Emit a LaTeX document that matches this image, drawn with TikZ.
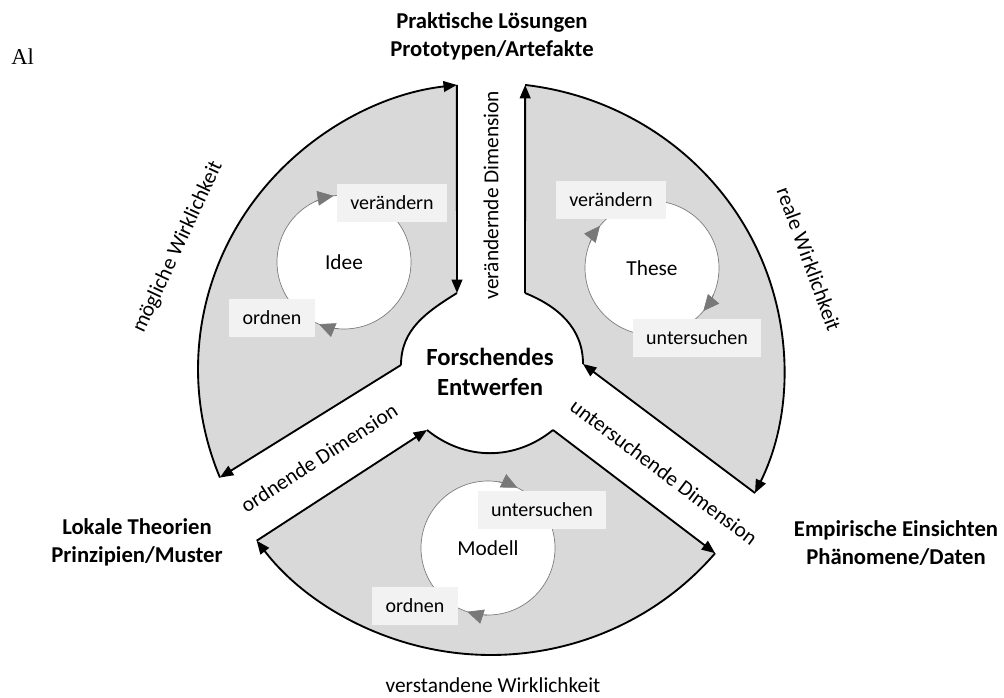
\documentclass[tikz,border=0pt]{standalone}
\usepackage{fontspec}
\setmainfont{Carlito}
\newfontfamily\serifA{Liberation Serif}
\usetikzlibrary{arrows.meta, positioning, calc}
\definecolor{sectorgray}{RGB}{217,217,217}
\definecolor{tagfill}{RGB}{242,242,242}
\definecolor{cyclegray}{RGB}{120,120,120}

\begin{document}
\begin{tikzpicture}[x=0.75pt, y=0.75pt,
    sector/.style={fill=sectorgray, draw=none},
    rim/.style={line width=1.4pt, black},
    rimarrow/.style={rim, -{Triangle[length=10pt, width=8pt]}},
    cyclenode/.style={circle, draw=cyclegray, line width=0.5pt, fill=white, minimum size=100.5pt, inner sep=0pt, outer sep=0pt, font=\fontsize{16}{19}\selectfont},
    cyclearrow/.style={cyclegray, line width=0.5pt, -{Triangle[length=12pt, width=11pt]}},
    tag/.style={fill=tagfill, minimum height=28pt, inner xsep=10pt, font=\fontsize{15}{18}\selectfont},
    pole/.style={align=center, font=\bfseries\fontsize{17}{21}\selectfont},
    dimlabel/.style={font=\fontsize{16}{19}\selectfont}
]
\useasboundingbox (0,0) rectangle (1004,697);
\coordinate (c) at (491,328);

% Idee sector
\coordinate (idee-a) at (401,332);
\coordinate (idee-b) at ($(c)+(202.3:293 and 286)$);
\coordinate (idee-d) at ($(c)+(96.7:293 and 286)$);
\coordinate (idee-e) at (457,404);
\fill[sector] (idee-a) -- (idee-b) arc[start angle=202.3, end angle=96.7, x radius=293, y radius=286]
  -- (idee-e) to[out=212, in=90] (idee-a) -- cycle;
\draw[rimarrow] (idee-a) -- (idee-b);
\draw[rimarrow] (idee-b) arc[start angle=202.3, end angle=96.7, x radius=293, y radius=286];
\draw[rimarrow] (idee-d) -- (idee-e);
\draw[rim] (idee-e) to[out=212, in=90] (idee-a);

% These sector
\coordinate (these-a) at (525,404);
\coordinate (these-b) at ($(c)+(83.3:293 and 286)$);
\coordinate (these-d) at ($(c)+(-25.7:293 and 286)$);
\coordinate (these-e) at (583,333);
\fill[sector] (these-a) -- (these-b) arc[start angle=83.3, end angle=-25.7, x radius=293, y radius=286]
  -- (these-e) to[out=90, in=-22] (these-a) -- cycle;
\draw[rimarrow] (these-a) -- (these-b);
\draw[rimarrow] (these-b) arc[start angle=83.3, end angle=-25.7, x radius=293, y radius=286];
\draw[rimarrow] (these-d) -- (these-e);
\draw[rim] (these-e) to[out=90, in=-22] (these-a);

% Modell sector
\coordinate (modell-a) at (553,267);
\coordinate (modell-b) at ($(c)+(-40.1:293 and 286)$);
\coordinate (modell-d) at ($(c)+(-143.1:293 and 286)$);
\coordinate (modell-e) at (427,267);
\fill[sector] (modell-a) -- (modell-b) arc[start angle=-40.1, end angle=-143.1, x radius=293, y radius=286]
  -- (modell-e) to[out=-39, in=219] (modell-a) -- cycle;
\draw[rimarrow] (modell-a) -- (modell-b);
\draw[rimarrow] (modell-b) arc[start angle=-40.1, end angle=-143.1, x radius=293, y radius=286];
\draw[rimarrow] (modell-d) -- (modell-e);
\draw[rim] (modell-e) to[out=-39, in=219] (modell-a);

\node[align=center, font=\bfseries\fontsize{18.5}{22.5}\selectfont] (core) at (490,325) {Forschendes\\Entwerfen};

% poles
\node[pole] (loesungen) at (492,661) {Praktische Lösungen\\Prototypen/Artefakte};
\node[pole] (theorien) at (137,155) {Lokale Theorien\\Prinzipien/Muster};
\node[pole] (einsichten) at (896,154) {Empirische Einsichten\\Phänomene/Daten};

% dimensions and realities
\node[dimlabel, rotate=90] (dimv) at (491,502) {verändernde Dimension};
\node[dimlabel, rotate=33] (dimo) at (319,239) {ordnende Dimension};
\node[dimlabel, rotate=-37] (dimu) at (664,225) {untersuchende Dimension};
\node[dimlabel, rotate=65] (moegl) at (178,450) {mögliche Wirklichkeit};
\node[dimlabel, rotate=-70] (real) at (809,438) {reale Wirklichkeit};
\node[dimlabel, anchor=base] (verst) at (493,5) {verstandene Wirklichkeit};

% small cycles
\node[cyclenode] (idee) at (344,435) {Idee};
\draw[cyclearrow] (idee.116) arc[start angle=116, end angle=99, radius=67];
\draw[cyclearrow] (idee.265) arc[start angle=265, end angle=248, radius=67];
\node[tag] (idee-v) at (392,494) {verändern};
\node[tag] (idee-o) at (272,379) {ordnen};

\node[cyclenode] (these) at (652,429) {These};
\draw[cyclearrow] (these.158) arc[start angle=158, end angle=141, radius=67];
\draw[cyclearrow] (these.-23) arc[start angle=-23, end angle=-40, radius=67];
\node[tag] (these-v) at (611,497) {verändern};
\node[tag] (these-u) at (697,359) {untersuchen};

\node[cyclenode] (modell) at (488,149) {Modell};
\draw[cyclearrow] (modell.81) arc[start angle=81, end angle=64, radius=67];
\draw[cyclearrow] (modell.-91) arc[start angle=-91, end angle=-108, radius=67];
\node[tag] (modell-u) at (542,187) {untersuchen};
\node[tag] (modell-o) at (415,91) {ordnen};

\node[font=\serifA\fontsize{17}{20}\selectfont, anchor=base west, inner sep=0pt] (fig) at (11,632) {Al};
\end{tikzpicture}
\end{document}
